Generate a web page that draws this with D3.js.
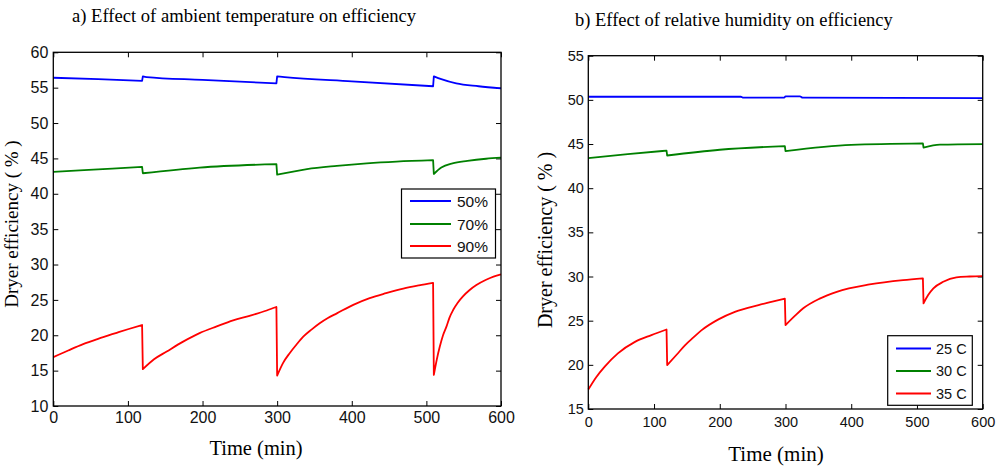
<!DOCTYPE html>
<html>
<head>
<meta charset="utf-8">
<script src="https://cdn.jsdelivr.net/npm/d3@7"></script>
<style>
  html, body { margin: 0; padding: 0; background: #fff; }
  svg { display: block; }
</style>
</head>
<body>
<svg id="chart" width="996" height="466"></svg>
<script>
// ---------- DATA ----------
// Panel a) Effect of ambient temperature (relative humidity series)
const titleA = "a) Effect of ambient temperature on efficiency";
const seriesNamesA = ["50%", "70%", "90%"];
const a50Time = [0, 60, 119, 120, 125, 200, 299, 300, 310, 400, 509, 510, 520, 540, 570, 600];
const a50Val  = [56.4, 56.2, 55.95, 56.6, 56.5, 56.1, 55.6, 56.6, 56.5, 55.9, 55.2, 56.6, 56.2, 55.6, 55.2, 54.9];
const a70Time = [0, 60, 119, 120, 196, 299, 300, 340, 380, 420, 460, 509, 510, 520, 535, 555, 580, 600];
const a70Val  = [43.1, 43.45, 43.8, 42.9, 43.7, 44.2, 42.7, 43.5, 43.95, 44.3, 44.55, 44.75, 42.8, 43.7, 44.3, 44.65, 44.95, 45.1];
const a90Time = [0, 20, 40, 60, 85, 100, 119,
                 120, 135, 152, 174, 196, 219, 241, 263, 286, 299,
                 300, 308, 317, 326, 335, 346, 357, 368, 380, 402, 424, 446, 469, 490, 509,
                 510, 514, 518, 522, 527, 531, 536, 542, 549, 558, 567, 580, 590, 600];
const a90Val  = [16.9, 17.85, 18.75, 19.5, 20.35, 20.85, 21.45,
                 15.2, 16.6, 17.7, 19.1, 20.3, 21.25, 22.1, 22.75, 23.5, 24.0,
                 14.3, 16.1, 17.5, 18.7, 19.8, 20.8, 21.7, 22.45, 23.1, 24.3, 25.25, 25.95, 26.6, 27.05, 27.4,
                 14.4, 16.6, 18.4, 19.9, 21.25, 22.5, 23.6, 24.6, 25.5, 26.4, 27.1, 27.85, 28.3, 28.6];
const yTicksA = [10, 15, 20, 25, 30, 35, 40, 45, 50, 55, 60];

// Panel b) Effect of relative humidity (ambient temperature series)
const titleB = "b) Effect of relative humidity on efficiency";
const seriesNamesB = ["25 C", "30 C", "35 C"];
const b25Time = [0, 232, 236, 298, 300, 322, 326, 600];
const b25Val  = [50.35, 50.35, 50.25, 50.25, 50.4, 50.4, 50.25, 50.2];
const b30Time = [0, 60, 119, 120, 200, 299, 300, 400, 509, 510, 535, 600];
const b30Val  = [43.4, 43.85, 44.25, 43.7, 44.35, 44.77, 44.2, 44.9, 45.07, 44.6, 44.93, 45.0];
const b35Time = [0, 12, 25, 45, 71, 96, 119,
                 120, 135, 147, 160, 172, 198, 223, 259, 280, 299,
                 300, 315, 327, 352, 378, 428, 479, 509,
                 510, 517, 525, 540, 560, 580, 600];
const b35Val  = [17.2, 18.6, 19.8, 21.3, 22.6, 23.37, 24.0,
                 19.97, 21.2, 22.2, 23.1, 23.9, 25.15, 26.0, 26.77, 27.15, 27.5,
                 24.5, 25.6, 26.4, 27.5, 28.27, 29.1, 29.6, 29.8,
                 26.96, 27.9, 28.66, 29.4, 29.9, 30.0, 30.05];
const yTicksB = [15, 20, 25, 30, 35, 40, 45, 50, 55];

const xTicks = [0, 100, 200, 300, 400, 500, 600];
const xLabel = "Time (min)";
const yLabel = "Dryer efficiency ( % )";
const seriesColors = ["#0000ff", "#008000", "#ff0000"];

// ---------- DRAW ----------
const svg = d3.select("#chart");
const sans = "'Liberation Sans', Arial, sans-serif";
const serif = "'Liberation Serif', 'Times New Roman', serif";

function panel(cfg) {
  const g = svg.append("g");
  const x = d3.scaleLinear().domain([0, 600]).range([cfg.x0, cfg.x1]);
  const y = d3.scaleLinear().domain(cfg.yDomain).range([cfg.y1, cfg.y0]);
  const tl = 5;

  const ax = [
    d3.axisBottom(x).tickValues(xTicks).tickSizeInner(-tl).tickSizeOuter(0).tickPadding(cfg.xPad),
    d3.axisTop(x).tickValues(xTicks).tickSizeInner(-tl).tickSizeOuter(0).tickFormat(""),
    d3.axisLeft(y).tickValues(cfg.yTicks).tickSizeInner(-tl).tickSizeOuter(0).tickPadding(cfg.yPad),
    d3.axisRight(y).tickValues(cfg.yTicks).tickSizeInner(-tl).tickSizeOuter(0).tickFormat("")
  ];
  const pos = [
    `translate(0,${cfg.y1})`, `translate(0,${cfg.y0})`,
    `translate(${cfg.x0},0)`, `translate(${cfg.x1},0)`
  ];
  ax.forEach((a, i) => {
    const ag = g.append("g").attr("transform", pos[i]).call(a);
    ag.select(".domain").remove();
    ag.selectAll(".tick line").attr("stroke", "#000").attr("stroke-width", 1);
    ag.selectAll(".tick text").attr("font-family", sans).attr("font-size", cfg.tickFont).attr("fill", "#111");
  });

  // series: smooth segments, vertical jumps where time repeats
  const line = d3.line().x(d => x(d[0])).y(d => y(d[1])).curve(d3.curveMonotoneX);
  cfg.series.forEach((s, i) => {
    const segs = [];
    let cur = [];
    s.t.forEach((t, k) => {
      if (k > 0 && t - s.t[k - 1] <= 1) { segs.push(cur); cur = []; }
      cur.push([t, s.v[k]]);
    });
    segs.push(cur);
    const d = segs.map((sg, j) => {
      const p = line(sg);
      return j === 0 ? p : p.replace(/^M/, "L");
    }).join("");
    g.append("path").attr("d", d).attr("fill", "none")
      .attr("stroke", seriesColors[i]).attr("stroke-width", 1.8)
      .attr("stroke-linejoin", "round");
  });

  g.append("rect").attr("x", cfg.x0).attr("y", cfg.y0)
    .attr("width", cfg.x1 - cfg.x0).attr("height", cfg.y1 - cfg.y0)
    .attr("fill", "none").attr("stroke", "#000").attr("stroke-width", 1.3);

  svg.append("text").attr("x", cfg.titleX).attr("y", cfg.titleY)
    .attr("font-family", serif).attr("font-size", cfg.titleFont).attr("fill", "#000")
    .text(cfg.title);
  svg.append("text").attr("x", cfg.xLabX).attr("y", cfg.xLabY).attr("text-anchor", "middle")
    .attr("font-family", serif).attr("font-size", cfg.labFont).attr("fill", "#000")
    .text(xLabel);
  svg.append("text").attr("transform", `translate(${cfg.yLabX},${cfg.yLabY}) rotate(-90)`)
    .attr("text-anchor", "middle")
    .attr("font-family", serif).attr("font-size", cfg.yLabFont).attr("fill", "#000")
    .text(yLabel);

  const L = cfg.legend;
  const lg = svg.append("g");
  lg.append("rect").attr("x", L.x).attr("y", L.y).attr("width", L.w).attr("height", L.h)
    .attr("fill", "#fff").attr("stroke", "#000").attr("stroke-width", 1.2);
  cfg.names.forEach((n, i) => {
    const ly = L.rowY[i];
    lg.append("line").attr("x1", L.lx1).attr("x2", L.lx2).attr("y1", ly).attr("y2", ly)
      .attr("stroke", seriesColors[i]).attr("stroke-width", 1.8);
    lg.append("text").attr("x", L.tx).attr("y", ly).attr("dy", "0.36em")
      .attr("font-family", sans).attr("font-size", L.font).attr("fill", "#111").text(n);
  });
}

panel({
  x0: 53.3, x1: 501, y0: 52.3, y1: 406, yDomain: [10, 60], yTicks: yTicksA,
  xPad: 6, yPad: 5, tickFont: 16,
  series: [{t: a50Time, v: a50Val}, {t: a70Time, v: a70Val}, {t: a90Time, v: a90Val}],
  names: seriesNamesA,
  title: titleA, titleX: 72, titleY: 22, titleFont: 18.6,
  xLabX: 256, xLabY: 455, labFont: 20.5,
  yLabX: 18, yLabY: 224, yLabFont: 19,
  legend: {x: 401.5, y: 189, w: 94, h: 69, lx1: 410, lx2: 451, tx: 457,
           rowY: [201, 224, 246], font: 15.5}
});

panel({
  x0: 588.3, x1: 982.7, y0: 55.7, y1: 409, yDomain: [15, 55], yTicks: yTicksB,
  xPad: 8, yPad: 4.5, tickFont: 14.5,
  series: [{t: b25Time, v: b25Val}, {t: b30Time, v: b30Val}, {t: b35Time, v: b35Val}],
  names: seriesNamesB,
  title: titleB, titleX: 575, titleY: 26, titleFont: 18.5,
  xLabX: 776, xLabY: 461, labFont: 21,
  yLabX: 552, yLabY: 240, yLabFont: 20,
  legend: {x: 887.7, y: 335.7, w: 84.6, h: 69.6, lx1: 896, lx2: 931, tx: 936,
           rowY: [348.5, 371, 393.5], font: 14.5}
});
</script>
</body>
</html>
